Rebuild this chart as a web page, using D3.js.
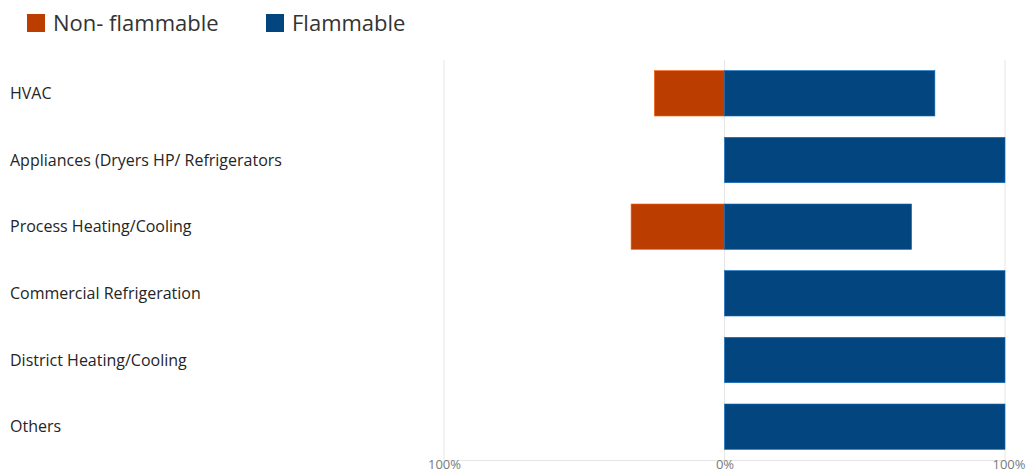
<!DOCTYPE html>
<html>
<head>
<meta charset="utf-8">
<script src="https://cdn.jsdelivr.net/npm/d3@7"></script>
<style>
    body { margin: 0; background: #fff; }
    svg { font-family: "Segoe UI", "Open Sans", sans-serif; }
</style>
</head>
<body>
<svg id="chart"></svg>
<script>
const width = 1026, height = 474
const margin = {top: 60, bottom: 14, left: 444, right: 21}

const categories = [
    "HVAC",
    "Appliances (Dryers HP/ Refrigerators",
    "Process Heating/Cooling",
    "Commercial Refrigeration",
    "District Heating/Cooling",
    "Others",
]
const nonFlammable = [25, 0, 33.3, 0, 0, 0]
const flammable = [75, 100, 66.7, 100, 100, 100]
const seriesNames = ["Non- flammable", "Flammable"]
const seriesColors = ["#bb3d00", "#03467f"]
const tickValues = [-100, 0, 100]

const svg = d3.select("svg#chart")
    .attr("viewBox", [0, 0, width, height])
    .attr("width", width)
    .attr("height", height)

const xScale = d3.scaleLinear()
    .domain([-100, 100])
    .range([margin.left, width - margin.right])

const yScale = d3.scaleBand()
    .domain(categories)
    .range([60, 460])
    .paddingInner(0.32)
    .paddingOuter(0.16)

const plotBottom = height - margin.bottom

// V grid lines
svg.append("g").classed("v-grid", true)
    .selectAll("line")
    .data(tickValues)
    .enter()
    .append("line")
    .attr("x1", d => xScale(d))
    .attr("x2", d => xScale(d))
    .attr("y1", margin.top)
    .attr("y2", plotBottom)
    .attr("stroke", "#e6e6e6")

// X axis
const xAxis = svg.append("g").classed("x-axis", true)
    .attr("transform", `translate(0, ${plotBottom})`)
    .call(d3.axisBottom(xScale).tickValues(tickValues).tickSize(0).tickPadding(0)
        .tickFormat(d => Math.abs(d) + "%"))
xAxis.select(".domain").attr("stroke", "#e6e6e6")
xAxis.selectAll("text")
    .attr("dy", "0.68em")
    .attr("fill", "#7a7a7a")
    .style("font-size", "13px")
    .style("font-family", "\"Segoe UI\", \"Open Sans\", sans-serif")
xAxis.selectAll(".tick:last-of-type text").attr("text-anchor", "end").attr("x", 20)

// category labels
svg.append("g").classed("y-labels", true)
    .selectAll("text")
    .data(categories)
    .enter()
    .append("text")
    .attr("x", 10)
    .attr("y", d => yScale(d) + yScale.bandwidth() / 2)
    .attr("dy", "0.35em")
    .attr("fill", "#252525")
    .style("font-size", "16px")
    .text(d => d)

// bars
const barData = []
categories.forEach((c, i) => {
    barData.push({cat: c, x0: -nonFlammable[i], x1: 0, s: 0})
    barData.push({cat: c, x0: 0, x1: flammable[i], s: 1})
})

svg.append("g").classed("bars", true)
    .selectAll("rect")
    .data(barData.filter(d => d.x1 - d.x0 > 0))
    .enter()
    .append("rect")
    .attr("x", d => xScale(d.x0))
    .attr("y", d => yScale(d.cat))
    .attr("width", d => xScale(d.x1) - xScale(d.x0))
    .attr("height", yScale.bandwidth())
    .attr("fill", d => seriesColors[d.s])
    .attr("stroke", d => d3.color(seriesColors[d.s]).brighter(1.2))
    .attr("stroke-width", 0.6)

// legend
const legendX = [27, 266]
const legend = svg.append("g").classed("legend", true)
    .selectAll("g")
    .data(seriesNames)
    .enter()
    .append("g")
    .attr("transform", (d, i) => `translate(${legendX[i]}, 14)`)

legend.append("rect")
    .attr("width", 18)
    .attr("height", 18)
    .attr("fill", (d, i) => seriesColors[i])

legend.append("text")
    .attr("x", 26)
    .attr("y", 9)
    .attr("dy", "0.36em")
    .attr("fill", "#333")
    .style("font-size", "22px")
    .text(d => d)
</script>
</body>
</html>
